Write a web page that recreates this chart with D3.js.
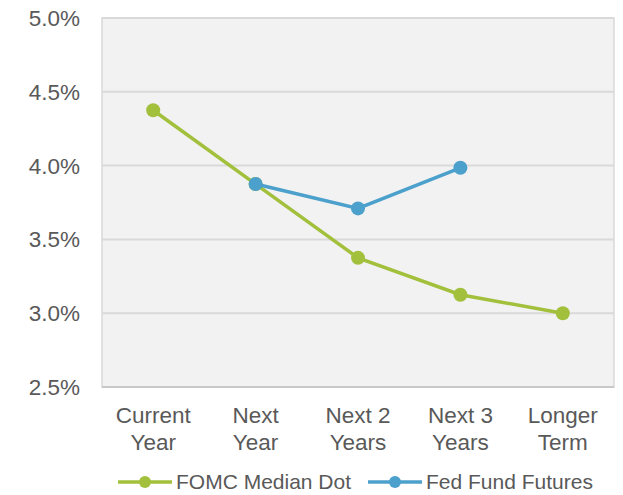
<!DOCTYPE html>
<html>
<head>
<meta charset="utf-8">
<script src="https://cdn.jsdelivr.net/npm/d3@7"></script>
<style>
  body { margin: 0; background: #fff; }
  text { font-family: "Liberation Sans", Arial, sans-serif; fill: #595959; }
</style>
</head>
<body>
<svg id="chart" width="623" height="495"></svg>
<script>
var categories = [["Current", "Year"], ["Next", "Year"], ["Next 2", "Years"], ["Next 3", "Years"], ["Longer", "Term"]]
var fomcDots = [4.375, 3.875, 3.375, 3.125, 3.0]
var fedFutures = [null, 3.875, 3.71, 3.985, null]
var yTicks = [2.5, 3.0, 3.5, 4.0, 4.5, 5.0]

var green = "#a2c03c"
var blue = "#4ca0cc"

var svg = d3.select("#chart")
var margin = {top: 18, right: 9, bottom: 108, left: 102}
var width = +svg.attr("width") - margin.left - margin.right
var height = +svg.attr("height") - margin.top - margin.bottom

var x = d3.scaleBand().domain(d3.range(categories.length)).range([0, width])
var y = d3.scaleLinear().domain([2.5, 5.0]).range([height, 0])

var g = svg.append("g").attr("transform", "translate(" + margin.left + "," + margin.top + ")")

// plot background
g.append("rect").attr("width", width).attr("height", height)
  .attr("fill", "#f2f2f2").attr("stroke", "#d9d9d9").attr("stroke-width", 1.5)

// gridlines
g.selectAll(".grid").data(yTicks.slice(1)).enter().append("line")
  .attr("x1", 0).attr("x2", width)
  .attr("y1", d => y(d)).attr("y2", d => y(d))
  .attr("stroke", "#d9d9d9").attr("stroke-width", 2)

g.append("line").attr("x1", 0).attr("x2", width).attr("y1", height).attr("y2", height)
  .attr("stroke", "#bfbfbf").attr("stroke-width", 1.5)

// y axis labels
g.selectAll(".ylab").data(yTicks).enter().append("text")
  .attr("x", -22).attr("y", d => y(d) + 8)
  .attr("text-anchor", "end").style("font-size", "22.5px")
  .text(d => d.toFixed(1) + "%")

// x axis labels
var xl = g.selectAll(".xlab").data(categories).enter().append("text")
  .attr("text-anchor", "middle").style("font-size", "22.5px")
  .attr("transform", (d, i) => "translate(" + (x(i) + x.bandwidth() / 2) + "," + (height + 36) + ")")
xl.append("tspan").attr("x", 0).attr("y", 0).text(d => d[0])
xl.append("tspan").attr("x", 0).attr("y", 27).text(d => d[1])

function drawSeries(values, color) {
  var pts = values.map((v, i) => ({i: i, v: v})).filter(d => d.v != null)
  var line = d3.line().x(d => x(d.i) + x.bandwidth() / 2).y(d => y(d.v))
  g.append("path").datum(pts).attr("d", line)
    .attr("fill", "none").attr("stroke", color).attr("stroke-width", 3.5)
  g.selectAll(null).data(pts).enter().append("circle")
    .attr("cx", d => x(d.i) + x.bandwidth() / 2).attr("cy", d => y(d.v))
    .attr("r", 7).attr("fill", color)
}

drawSeries(fomcDots, green)
drawSeries(fedFutures, blue)

// legend
var legend = [{name: "FOMC Median Dot", color: green, x: 118}, {name: "Fed Fund Futures", color: blue, x: 368}]
var lg = svg.selectAll(".legend").data(legend).enter().append("g")
  .attr("transform", d => "translate(" + d.x + ",482)")
lg.append("line").attr("x1", 0).attr("x2", 54).attr("stroke", d => d.color).attr("stroke-width", 3.5)
lg.append("circle").attr("cx", 27).attr("r", 6).attr("fill", d => d.color)
lg.append("text").attr("x", 58).attr("y", 7).style("font-size", "21px").text(d => d.name)
</script>
</body>
</html>
